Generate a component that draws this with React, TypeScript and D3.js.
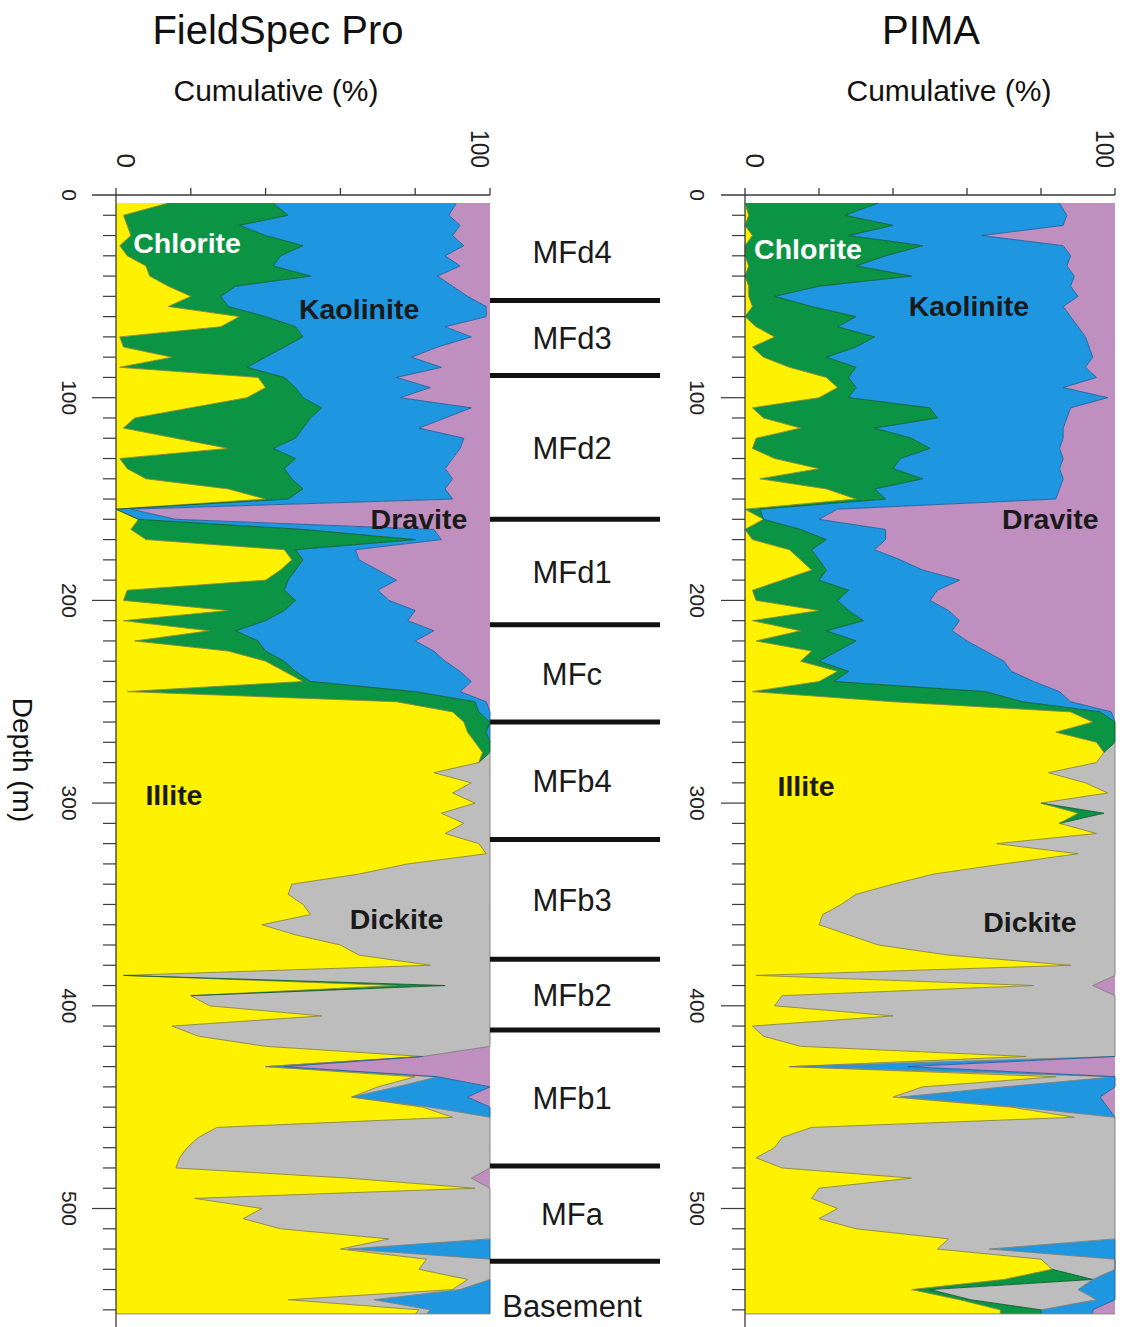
import React, { useEffect, useRef } from "react";
import * as d3 from "d3";

const width = 1122,
  height = 1327;

const FONT = "'Liberation Sans', Arial, Helvetica, sans-serif";

// minerals in stacking order (left -> right)
const minerals = ["Illite", "Chlorite", "Dickite", "Kaolinite", "Dravite"];
const fills = ["#fff200", "#0b9444", "#bdbdbd", "#1f97e0", "#bf8fbf"];
const strokes = ["#8a8730", "#0a5a2c", "#7e7e74", "#1b5f9c", "#7e588a"];

// sample depths (m)
const depth = [
  4, 10, 15, 20, 25, 30, 35, 40, 45, 50,
  55, 60, 65, 70, 75, 80, 85, 90, 95, 100,
  105, 110, 115, 120, 125, 130, 135, 140, 145, 150,
  155, 160, 165, 170, 175, 180, 185, 190, 195, 200,
  205, 210, 215, 220, 225, 230, 235, 240, 245, 250,
  255, 260, 265, 270, 275, 280, 285, 290, 295, 300,
  305, 310, 315, 320, 325, 330, 335, 340, 345, 350,
  355, 360, 365, 370, 375, 380, 385, 390, 395, 400,
  405, 410, 415, 420, 425, 430, 435, 440, 445, 450,
  455, 460, 465, 470, 475, 480, 485, 490, 495, 500,
  505, 510, 515, 520, 525, 530, 535, 540, 545, 550,
  552,
];

// FieldSpec Pro - cumulative (%) at the right edge of each mineral
const fsIllite = [
  14, 2, 3, 4, 1, 3, 8, 9, 14, 20,
  14, 33, 28, 1, 2, 15, 1, 38, 40, 35,
  20, 5, 2, 16, 30, 1, 3, 8, 30, 40,
  0, 6, 4, 8, 45, 47, 44, 40, 3, 2,
  30, 2, 25, 5, 30, 40, 45, 50, 3, 75,
  90, 93, 94, 96, 98, 97, 85, 95, 90, 96,
  87, 93, 88, 97, 99, 78, 65, 47, 46, 50,
  52, 39, 48, 60, 65, 84, 2, 75, 20, 25,
  55, 15, 22, 40, 82, 40, 80, 70, 63, 82,
  90, 27, 22, 19, 17, 16, 62, 96, 21, 39,
  34, 44, 73, 60, 83, 81, 94, 90, 46, 81,
  80,
];
const fsChlorite = [
  42, 46, 33, 40, 50, 44, 42, 52, 32, 28,
  30, 40, 48, 50, 45, 40, 35, 45, 48, 50,
  55, 52, 50, 48, 42, 48, 45, 47, 50, 46,
  0, 6, 50, 80, 48, 50, 48, 46, 45, 48,
  45, 40, 32, 38, 40, 45, 48, 52, 80, 96,
  97, 100, 99, 100, 100, 97, 85, 95, 90, 96,
  87, 93, 88, 97, 99, 78, 65, 47, 46, 50,
  52, 39, 48, 60, 65, 84, 2, 88, 20, 25,
  55, 15, 22, 40, 82, 40, 80, 70, 63, 82,
  90, 27, 22, 19, 17, 16, 62, 96, 21, 39,
  34, 44, 73, 60, 83, 81, 94, 90, 46, 81,
  80,
];
const fsDickite = [
  42, 46, 33, 40, 50, 44, 42, 52, 32, 28,
  30, 40, 48, 50, 45, 40, 35, 45, 48, 50,
  55, 52, 50, 48, 42, 48, 45, 47, 50, 46,
  0, 6, 50, 80, 48, 50, 48, 46, 45, 48,
  45, 40, 32, 38, 40, 45, 48, 52, 80, 96,
  97, 100, 99, 100, 100, 100, 100, 100, 100, 100,
  100, 100, 100, 100, 100, 100, 100, 100, 100, 100,
  100, 100, 100, 100, 100, 100, 100, 100, 100, 100,
  100, 100, 100, 100, 82, 40, 86, 75, 63, 84,
  100, 100, 100, 100, 100, 100, 95, 100, 100, 100,
  100, 100, 100, 62, 100, 100, 100, 92, 69, 84,
  83,
];
const fsKaolinite = [
  91, 89, 92, 90, 93, 88, 92, 86, 90, 94,
  99, 99, 88, 95, 86, 79, 87, 75, 84, 76,
  95, 88, 81, 93, 92, 90, 88, 90, 88, 90,
  4, 16, 85, 87, 64, 65, 70, 75, 70, 73,
  80, 78, 85, 80, 85, 88, 92, 95, 92, 99,
  100, 100, 100, 100, 100, 100, 100, 100, 100, 100,
  100, 100, 100, 100, 100, 100, 100, 100, 100, 100,
  100, 100, 100, 100, 100, 100, 100, 100, 100, 100,
  100, 100, 100, 100, 82, 45, 86, 100, 94, 100,
  100, 100, 100, 100, 100, 100, 95, 100, 100, 100,
  100, 100, 100, 100, 100, 100, 100, 100, 100, 100,
  100,
];

// PIMA - cumulative (%)
const pimaIllite = [
  0, 1, 0, 2, 0, 0, 1, 0, 1, 1,
  2, 0, 3, 8, 2, 5, 12, 22, 25, 20,
  2, 5, 15, 3, 2, 8, 20, 4, 22, 30,
  0, 5, 0, 2, 12, 15, 18, 10, 2, 3,
  20, 2, 15, 3, 18, 15, 25, 20, 2, 40,
  88, 94, 84, 95, 97, 95, 82, 92, 98, 80,
  90, 85, 95, 68, 90, 70, 51, 40, 30, 26,
  21, 20, 28, 36, 55, 88, 3, 78, 10, 8,
  40, 2, 5, 15, 76, 12, 84, 48, 40, 72,
  89, 18, 10, 8, 3, 10, 45, 20, 18, 25,
  20, 30, 55, 52, 80, 83, 70, 45, 58, 69,
  69,
];
const pimaChlorite = [
  36, 27, 40, 28, 48, 38, 30, 45, 20, 8,
  18, 30, 25, 35, 30, 22, 30, 28, 30, 28,
  50, 52, 35, 45, 50, 42, 40, 48, 35, 38,
  4, 5, 15, 22, 18, 20, 22, 20, 28, 25,
  28, 32, 22, 30, 25, 20, 28, 24, 65, 75,
  96, 100, 100, 100, 97, 95, 82, 92, 98, 80,
  97, 85, 95, 68, 90, 70, 51, 40, 30, 26,
  21, 20, 28, 36, 55, 88, 3, 78, 10, 8,
  40, 2, 5, 15, 76, 12, 84, 48, 40, 72,
  89, 18, 10, 8, 3, 10, 45, 20, 18, 25,
  20, 30, 55, 52, 80, 83, 94, 50, 61, 80,
  80,
];
const pimaDickite = [
  36, 27, 40, 28, 48, 38, 30, 45, 20, 8,
  18, 30, 25, 35, 30, 22, 30, 28, 30, 28,
  50, 52, 35, 45, 50, 42, 40, 48, 35, 38,
  4, 5, 15, 22, 18, 20, 22, 20, 28, 25,
  28, 32, 22, 30, 25, 20, 28, 24, 65, 75,
  96, 100, 100, 100, 100, 100, 100, 100, 100, 100,
  100, 100, 100, 100, 100, 100, 100, 100, 100, 100,
  100, 100, 100, 100, 100, 100, 100, 94, 100, 100,
  100, 100, 100, 100, 100, 12, 100, 70, 42, 74,
  100, 100, 100, 100, 100, 100, 100, 100, 100, 100,
  100, 100, 100, 66, 100, 100, 94, 90, 95, 80,
  80,
];
const pimaKaolinite = [
  85, 87, 86, 64, 86, 88, 87, 89, 88, 90,
  86, 88, 90, 92, 93, 94, 92, 95, 86, 98,
  88, 87, 86, 86, 85, 86, 85, 86, 85, 84,
  25, 20, 38, 38, 35, 42, 48, 58, 52, 50,
  55, 58, 56, 60, 65, 70, 72, 78, 85, 88,
  99, 100, 100, 100, 100, 100, 100, 100, 100, 100,
  100, 100, 100, 100, 100, 100, 100, 100, 100, 100,
  100, 100, 100, 100, 100, 100, 100, 94, 100, 100,
  100, 100, 100, 100, 100, 44, 100, 100, 96, 98,
  100, 100, 100, 100, 100, 100, 100, 100, 100, 100,
  100, 100, 100, 100, 100, 100, 100, 100, 100, 94,
  94,
];

// stratigraphic units (top depth of each unit, last value = bottom)
const unitNames = ["MFd4", "MFd3", "MFd2", "MFd1", "MFc", "MFb4", "MFb3", "MFb2", "MFb1", "MFa", "Basement"];
const unitTops = [4, 52, 89, 160, 212, 260, 318, 377, 412, 479, 526, 570];

// mineral labels: [name, % position, depth of baseline, colour]
const fsLabels: [string, number, number, string][] = [
  ["Chlorite", 19, 28.6, "#ffffff"],
  ["Kaolinite", 65, 61, "#1a1a1a"],
  ["Dravite", 81, 165, "#1a1a1a"],
  ["Illite", 15.5, 301, "#1a1a1a"],
  ["Dickite", 75, 362, "#1a1a1a"],
];
const pimaLabels: [string, number, number, string][] = [
  ["Chlorite", 17, 31.6, "#ffffff"],
  ["Kaolinite", 60.5, 59.7, "#1a1a1a"],
  ["Dravite", 82.5, 165, "#1a1a1a"],
  ["Illite", 16.5, 296.5, "#1a1a1a"],
  ["Dickite", 77, 363.6, "#1a1a1a"],
];

const depthTicks = d3.range(0, 560, 10);
const xTicks = [0, 20, 40, 60, 80, 100];

function App() {
  const ref = useRef<SVGSVGElement>(null);

  useEffect(() => {
    const svg = d3.select(ref.current);
    svg.selectAll("*").remove();

    const y = d3.scaleLinear().domain([0, 552]).range([195, 195 + 552 * 2.027]);

    const panels = [
      { title: "FieldSpec Pro", titleX: 278, cumX: 276, left: 116, right: 490, labelX: 62, cum: [fsIllite, fsChlorite, fsDickite, fsKaolinite], labels: fsLabels },
      { title: "PIMA", titleX: 931, cumX: 949, left: 745, right: 1115, labelX: 690, cum: [pimaIllite, pimaChlorite, pimaDickite, pimaKaolinite], labels: pimaLabels },
    ];

    const idx = depth.map((_, i) => i);

    panels.forEach(p => {
      const x = d3.scaleLinear().domain([0, 100]).range([p.left, p.right]);
      const g = svg.append("g");

      // cumulative edge j at sample i (kept monotone)
      const edge = (j: number, i: number) => {
        if (j < 0) return 0;
        if (j >= 4) return 100;
        let v = 0;
        for (let k = 0; k <= j; k++) v = Math.max(v, p.cum[k][i]);
        return Math.min(v, 100);
      };
      const w = (j: number, i: number) => (i < 0 || i >= depth.length ? 0 : edge(j, i) - edge(j - 1, i));

      //填充各矿物
      minerals.forEach((m, j) => {
        const area = d3
          .area<number>()
          .y(i => y(depth[i]))
          .x0(i => x(edge(j - 1, i)))
          .x1(i => x(edge(j, i)));
        g.append("path").attr("d", area(idx)).attr("fill", fills[j]).attr("stroke", "none");
      });

      //边界线
      for (let j = 0; j < 4; j++) {
        const line = d3
          .line<number>()
          .defined(i => w(j, i) > 0 || w(j, i - 1) > 0 || w(j, i + 1) > 0)
          .x(i => x(edge(j, i)))
          .y(i => y(depth[i]));
        g.append("path")
          .attr("d", line(idx))
          .attr("fill", "none")
          .attr("stroke", strokes[j])
          .attr("stroke-width", 0.9)
          .attr("stroke-linejoin", "round");
      }

      // bottom outline
      g.append("line")
        .attr("x1", x(0)).attr("x2", x(100))
        .attr("y1", y(552)).attr("y2", y(552))
        .attr("stroke", "#8a8a70").attr("stroke-width", 1);

      // axes
      const axisColor = "#3a3a3a";
      g.append("line")
        .attr("x1", x(0) - 24).attr("x2", x(100))
        .attr("y1", y(0)).attr("y2", y(0))
        .attr("stroke", axisColor).attr("stroke-width", 1.3);
      g.append("line")
        .attr("x1", x(0)).attr("x2", x(0))
        .attr("y1", y(0)).attr("y2", height)
        .attr("stroke", axisColor).attr("stroke-width", 1.3);

      g.selectAll(".xt")
        .data(xTicks)
        .join("line")
        .attr("x1", d => x(d)).attr("x2", d => x(d))
        .attr("y1", y(0)).attr("y2", y(0) - 7)
        .attr("stroke", axisColor).attr("stroke-width", 1.3);

      g.selectAll(".yt")
        .data(depthTicks.filter(d => d > 0))
        .join("line")
        .attr("x1", d => x(0) - (d % 100 === 0 ? 24 : 13)).attr("x2", x(0))
        .attr("y1", d => y(d)).attr("y2", d => y(d))
        .attr("stroke", axisColor).attr("stroke-width", 1.2);

      // depth labels (rotated)
      g.selectAll(".yl")
        .data(depthTicks.filter(d => d % 100 === 0))
        .join("text")
        .attr("transform", d => `translate(${p.labelX},${y(d)}) rotate(90)`)
        .attr("text-anchor", "middle")
        .attr("font-family", FONT)
        .attr("font-size", 21)
        .attr("fill", "#222")
        .text(d => d);

      // top labels 0 and 100
      g.append("text")
        .attr("transform", `translate(${x(0) + 1},168) rotate(90)`)
        .attr("text-anchor", "end")
        .attr("font-family", FONT)
        .attr("font-size", 26)
        .attr("fill", "#222")
        .text("0");
      g.append("text")
        .attr("transform", `translate(${x(100) - 19},168) rotate(90)`)
        .attr("text-anchor", "end")
        .attr("font-family", FONT)
        .attr("font-size", 26)
        .attr("textLength", 38)
        .attr("lengthAdjust", "spacingAndGlyphs")
        .attr("fill", "#222")
        .text("100");

      // titles
      g.append("text")
        .attr("x", p.titleX).attr("y", 44)
        .attr("text-anchor", "middle")
        .attr("font-family", FONT)
        .attr("font-size", 40)
        .attr("fill", "#111")
        .text(p.title);
      g.append("text")
        .attr("x", p.cumX).attr("y", 101)
        .attr("text-anchor", "middle")
        .attr("font-family", FONT)
        .attr("font-size", 30)
        .attr("fill", "#111")
        .text("Cumulative (%)");

      // mineral labels
      g.selectAll(".ml")
        .data(p.labels)
        .join("text")
        .attr("x", d => x(d[1]))
        .attr("y", d => y(d[2]))
        .attr("text-anchor", "middle")
        .attr("font-family", FONT)
        .attr("font-weight", "bold")
        .attr("font-size", 28.5)
        .attr("fill", d => d[3])
        .text(d => d[0]);
    });

    // unit boundaries
    svg.append("g")
      .selectAll("line")
      .data(unitTops.slice(1, -1))
      .join("line")
      .attr("x1", 490).attr("x2", 660)
      .attr("y1", d => y(d)).attr("y2", d => y(d))
      .attr("stroke", "#111").attr("stroke-width", 5);

    svg.append("g")
      .selectAll("text")
      .data(unitNames)
      .join("text")
      .attr("x", 572)
      .attr("y", (d, i) => y((unitTops[i] + unitTops[i + 1]) / 2))
      .attr("dy", "0.36em")
      .attr("text-anchor", "middle")
      .attr("font-family", FONT)
      .attr("font-size", 31)
      .attr("fill", "#1a1a1a")
      .text(d => d);

    // depth axis title
    svg.append("text")
      .attr("transform", `translate(13,760) rotate(90)`)
      .attr("text-anchor", "middle")
      .attr("font-family", FONT)
      .attr("font-size", 28)
      .attr("fill", "#111")
      .text("Depth (m)");
  }, []);

  return (
    <svg
      ref={ref}
      width={width}
      height={height}
      style={{ position: "absolute", left: 0, top: 0, background: "#fff" }}
    />
  );
}

export default App;
